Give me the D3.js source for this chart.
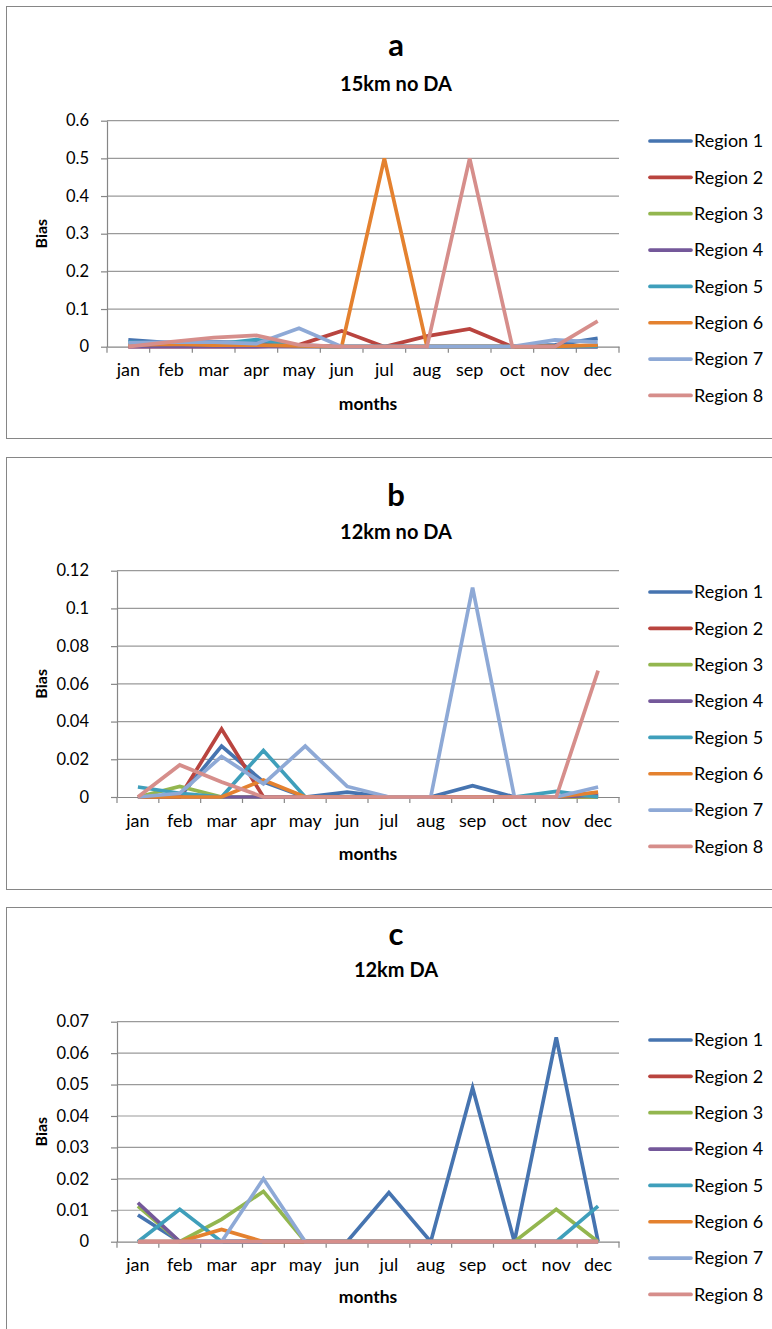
<!DOCTYPE html>
<html>
<head>
<meta charset="utf-8">
<script src="https://cdn.jsdelivr.net/npm/d3@7"></script>
<style>
  body { margin: 0; background: #fff; }
  svg { display: block; font-family: Lato, 'Open Sans', sans-serif; }
</style>
</head>
<body>
<svg id="chart" width="772" height="1329"></svg>
<script>
const months = ['jan', 'feb', 'mar', 'apr', 'may', 'jun', 'jul', 'aug', 'sep', 'oct', 'nov', 'dec'];
const regions = ['Region 1', 'Region 2', 'Region 3', 'Region 4', 'Region 5', 'Region 6', 'Region 7', 'Region 8'];
const colors = ['#4674b0', '#b9443f', '#93b64f', '#74589a', '#3f9fbb', '#e4812f', '#8ea9d6', '#d68e8b'];

// one row per region, 12 monthly values
const biasA = [
  [0.018, 0.010, 0.013, 0.010, 0.004, 0, 0, 0, 0, 0, 0.005, 0.022],
  [0, 0, 0, 0, 0.005, 0.042, 0, 0.028, 0.047, 0, 0, 0],
  [0.003, 0.004, 0.003, 0.002, 0.001, 0, 0, 0, 0, 0, 0, 0.002],
  [0, 0, 0, 0, 0, 0, 0, 0, 0, 0, 0, 0],
  [0.012, 0.008, 0.006, 0.019, 0.002, 0, 0, 0, 0, 0, 0, 0.001],
  [0.004, 0.007, 0.004, 0.004, 0.002, 0, 0.5, 0, 0, 0, 0.001, 0.004],
  [0.010, 0.012, 0.012, 0.008, 0.049, 0, 0, 0, 0, 0, 0.018, 0.012],
  [0, 0.013, 0.024, 0.030, 0.005, 0, 0, 0, 0.5, 0, 0, 0.068]
];
const biasB = [
  [0, 0, 0.027, 0.008, 0, 0.0026, 0, 0, 0.006, 0, 0, 0.002],
  [0, 0, 0.036, 0, 0, 0, 0, 0, 0, 0, 0, 0],
  [0, 0.0056, 0, 0, 0, 0, 0, 0, 0, 0, 0, 0],
  [0, 0, 0, 0, 0, 0, 0, 0, 0, 0, 0, 0.001],
  [0.0053, 0.002, 0, 0.0247, 0, 0, 0, 0, 0, 0, 0.003, 0],
  [0, 0, 0, 0.009, 0, 0, 0, 0, 0, 0, 0, 0.0026],
  [0, 0.002, 0.0215, 0.007, 0.027, 0.0056, 0, 0, 0.111, 0, 0, 0.0053],
  [0, 0.017, 0.008, 0, 0, 0, 0, 0, 0, 0, 0, 0.067]
];
const biasC = [
  [0.0085, 0, 0, 0, 0, 0, 0.0156, 0, 0.049, 0, 0.065, 0],
  [0, 0, 0, 0, 0, 0, 0, 0, 0, 0, 0, 0],
  [0.0113, 0, 0.0071, 0.016, 0, 0, 0, 0, 0, 0, 0.0103, 0],
  [0.0124, 0, 0, 0, 0, 0, 0, 0, 0, 0, 0, 0],
  [0, 0.0103, 0, 0, 0, 0, 0, 0, 0, 0, 0, 0.0113],
  [0, 0, 0.0039, 0, 0, 0, 0, 0, 0, 0, 0, 0],
  [0, 0, 0, 0.020, 0, 0, 0, 0, 0, 0, 0, 0],
  [0, 0, 0, 0, 0, 0, 0, 0, 0, 0, 0, 0]
];
const ticksA = [0, 0.1, 0.2, 0.3, 0.4, 0.5, 0.6];
const ticksB = [0, 0.02, 0.04, 0.06, 0.08, 0.1, 0.12];
const ticksC = [0, 0.01, 0.02, 0.03, 0.04, 0.05, 0.06, 0.07];

const svg = d3.select('#chart');
const fmt = d3.format('~g');

const drawPanel = (p) => {
  const g = svg.append('g');

  g.append('rect')
    .attr('x', 6.5)
    .attr('y', p.boxTop + 0.5)
    .attr('width', 780)
    .attr('height', p.boxHeight)
    .attr('fill', 'none')
    .attr('stroke', '#868686');

  g.append('text')
    .attr('x', 396)
    .attr('y', p.titleY)
    .attr('text-anchor', 'middle')
    .attr('font-size', 31)
    .attr('font-weight', 'bold')
    .text(p.letter);
  g.append('text')
    .attr('x', 396)
    .attr('y', p.subY)
    .attr('text-anchor', 'middle')
    .attr('font-size', 20)
    .attr('font-weight', 'bold')
    .text(p.subtitle);

  const x = d3.scaleBand()
    .domain(months)
    .range([p.left, 619]);
  const y = d3.scaleLinear()
    .domain([0, d3.max(p.ticks)])
    .range([p.bottom, p.top]);

  // gridlines
  g.append('g')
    .selectAll('line')
    .data(p.ticks.slice(1))
    .enter().append('line')
    .attr('x1', p.left)
    .attr('x2', 619)
    .attr('y1', d => y(d))
    .attr('y2', d => y(d))
    .attr('stroke', '#9a9a9a')
    .attr('stroke-width', 1.2);

  const yAxis = g.append('g')
    .attr('transform', `translate(${p.left},0)`)
    .call(d3.axisLeft(y).tickValues(p.ticks).tickFormat(fmt).tickSize(6).tickPadding(0).tickSizeOuter(0));
  yAxis.selectAll('line, path').attr('stroke', '#868686').attr('stroke-width', 1.2);
  yAxis.selectAll('text')
    .attr('x', p.labelRight - p.left)
    .attr('font-size', 16.5)
    .attr('font-family', 'Lato, sans-serif')
    .attr('fill', '#000');

  const xAxis = g.append('g')
    .attr('transform', `translate(0,${p.bottom})`)
    .call(d3.axisBottom(x).tickSize(0).tickPadding(17).tickSizeOuter(0));
  xAxis.select('path').attr('stroke', '#868686').attr('stroke-width', 1.2);
  xAxis.selectAll('text')
    .attr('font-size', 18)
    .attr('font-family', 'Lato, sans-serif')
    .attr('fill', '#000');
  xAxis.selectAll('.bound')
    .data(d3.range(months.length + 1))
    .enter().append('line')
    .attr('class', 'bound')
    .attr('x1', i => p.left + i * x.step())
    .attr('x2', i => p.left + i * x.step())
    .attr('y1', 0)
    .attr('y2', 6)
    .attr('stroke', '#868686')
    .attr('stroke-width', 1.2);

  g.append('text')
    .attr('x', 368)
    .attr('y', p.monthsY)
    .attr('text-anchor', 'middle')
    .attr('font-size', 17.5)
    .attr('font-weight', 'bold')
    .text('months');

  g.append('text')
    .attr('transform', `translate(47,${(p.top + p.bottom) / 2}) rotate(-90)`)
    .attr('text-anchor', 'middle')
    .attr('font-size', 16)
    .attr('font-weight', 'bold')
    .text('Bias');

  const line = d3.line()
    .x((d, i) => x(months[i]) + x.bandwidth() / 2)
    .y(d => y(d));

  g.append('g')
    .selectAll('path')
    .data(p.series)
    .enter().append('path')
    .attr('fill', 'none')
    .attr('stroke', (d, i) => colors[i])
    .attr('stroke-width', 3.7)
    .attr('stroke-linejoin', 'miter')
    .attr('d', line);

  const legend = g.append('g')
    .selectAll('g')
    .data(regions)
    .enter().append('g')
    .attr('transform', (d, i) => `translate(0,${p.legendTop + i * 36.35})`);
  legend.append('line')
    .attr('x1', 650)
    .attr('x2', 691)
    .attr('stroke', (d, i) => colors[i])
    .attr('stroke-width', 3.7)
    .attr('stroke-linecap', 'round');
  legend.append('text')
    .attr('x', 694)
    .attr('dy', '0.35em')
    .attr('font-size', 18)
    .text(d => d);
};

drawPanel({ letter: 'a', subtitle: '15km no DA', series: biasA, ticks: ticksA,
  boxTop: 6, boxHeight: 432, titleY: 56, subY: 91, top: 120.7, bottom: 346.7, left: 107,
  labelRight: 89, monthsY: 410, legendTop: 141 });
drawPanel({ letter: 'b', subtitle: '12km no DA', series: biasB, ticks: ticksB,
  boxTop: 457, boxHeight: 432, titleY: 506, subY: 539, top: 570.7, bottom: 797, left: 117,
  labelRight: 89, monthsY: 860, legendTop: 592 });
drawPanel({ letter: 'c', subtitle: '12km DA', series: biasC, ticks: ticksC,
  boxTop: 907, boxHeight: 440, titleY: 945, subY: 977, top: 1021.7, bottom: 1241.7, left: 117,
  labelRight: 89, monthsY: 1303, legendTop: 1040 });
</script>
</body>
</html>
